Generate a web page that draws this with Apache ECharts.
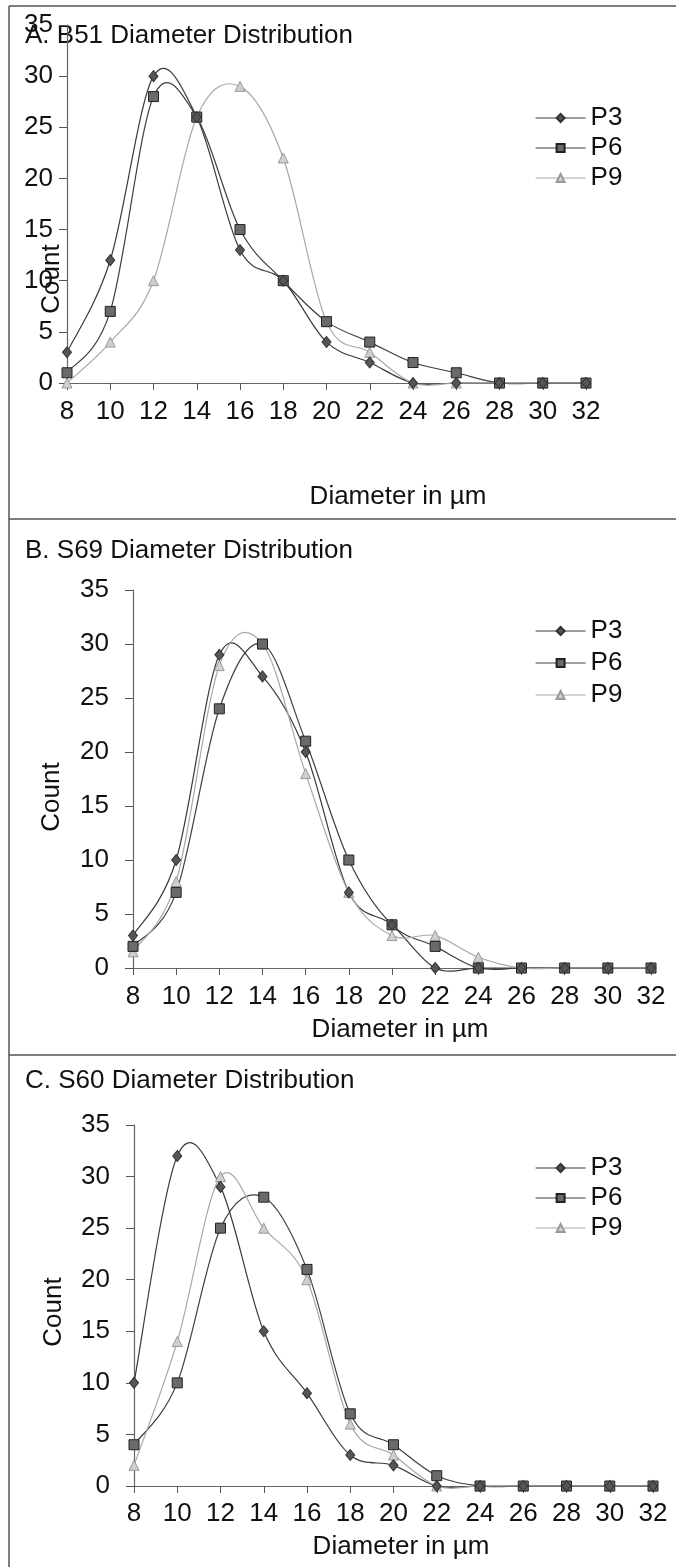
<!DOCTYPE html>
<html>
<head>
<meta charset="utf-8">
<script src="https://cdn.jsdelivr.net/npm/echarts@6/dist/echarts.min.js"></script>
<style>
html,body{margin:0;padding:0;background:#fff;}
#chart{width:676px;height:1567px;}
</style>
</head>
<body>
<div id="chart"></div>
<script>
// ---- data ----
const diameters = [8, 10, 12, 14, 16, 18, 20, 22, 24, 26, 28, 30, 32];
const seriesNames = ['P3', 'P6', 'P9'];
const panelTitles = ['A. B51 Diameter Distribution', 'B. S69 Diameter Distribution', 'C. S60 Diameter Distribution'];
const xAxisTitle = 'Diameter in µm';
const yAxisTitle = 'Count';

const b51_P3 = [3, 12, 30, 26, 13, 10, 4, 2, 0, 0, 0, 0, 0];
const b51_P6 = [1, 7, 28, 26, 15, 10, 6, 4, 2, 1, 0, 0, 0];
const b51_P9 = [0, 4, 10, 26, 29, 22, 6, 3, 0, 0, 0, 0, 0];

const s69_P3 = [3, 10, 29, 27, 20, 7, 4, 0, 0, 0, 0, 0, 0];
const s69_P6 = [2, 7, 24, 30, 21, 10, 4, 2, 0, 0, 0, 0, 0];
const s69_P9 = [1.5, 8, 28, 30, 18, 7, 3, 3, 1, 0, 0, 0, 0];

const s60_P3 = [10, 32, 29, 15, 9, 3, 2, 0, 0, 0, 0, 0, 0];
const s60_P6 = [4, 10, 25, 28, 21, 7, 4, 1, 0, 0, 0, 0, 0];
const s60_P9 = [2, 14, 30, 25, 20, 6, 3, 0, 0, 0, 0, 0, 0];

const panelData = [
  [b51_P3, b51_P6, b51_P9],
  [s69_P3, s69_P6, s69_P9],
  [s60_P3, s60_P6, s60_P9]
];

// ---- layout / style ----
const FONT = 'Liberation Sans, Arial, sans-serif';
const FS = 26;
const grids = [
  { left: 67, top: 25, width: 519, height: 358 },
  { left: 133, top: 590, width: 518, height: 378 },
  { left: 134, top: 1125, width: 519, height: 361 }
];
const xLabelMargins = [16, 16, 15];
const yLabelMargins = [14, 24, 24];
const legendTops = [100, 613, 1150];
const legendGaps = [4, 6, 4];
const titlePos = [[25, 37], [25, 552], [25, 1082]];
const xNamePos = [[398, 497], [400, 1030], [401, 1547]];
const yNamePos = [[52, 279], [52, 797], [54, 1312]];

const styles = [
  { symbol: 'diamond', symbolSize: [9, 11], line: '#3a3a3a', fill: '#555', border: '#333' },
  { symbol: 'rect', symbolSize: 10, line: '#3f3f3f', fill: '#6a6a6a', border: '#222' },
  { symbol: 'triangle', symbolSize: 10, line: '#a8a8a8', fill: '#cfcfcf', border: '#999' }
];

// Excel-like (Catmull-Rom) smoothed curve drawn segment by segment through the axis scales
function makeCurveRenderer(vals, color) {
  const n = vals.length;
  const cl = j => Math.max(0, Math.min(n - 1, j));
  return function (params, api) {
    const i = params.dataIndex;
    if (i >= n - 1) return null;
    const p = j => api.coord([diameters[cl(j)], vals[cl(j)]]);
    const p0 = p(i - 1), p1 = p(i), p2 = p(i + 1), p3 = p(i + 2);
    const t = 1 / 6;
    return {
      type: 'bezierCurve',
      shape: {
        x1: p1[0], y1: p1[1], x2: p2[0], y2: p2[1],
        cpx1: p1[0] + (p2[0] - p0[0]) * t, cpy1: p1[1] + (p2[1] - p0[1]) * t,
        cpx2: p2[0] - (p3[0] - p1[0]) * t, cpy2: p2[1] - (p3[1] - p1[1]) * t
      },
      style: { stroke: color, lineWidth: 1.2, fill: 'none' },
      silent: true
    };
  };
}

const xAxes = [], yAxes = [], series = [], legends = [], graphics = [];

grids.forEach((g, i) => {
  xAxes.push({
    type: 'value', gridIndex: i, min: 8, max: 32, interval: 2,
    axisLine: { show: true, onZero: false, lineStyle: { color: '#666', width: 1.2 } },
    axisTick: { show: true, inside: false, length: 7, lineStyle: { color: '#555' } },
    splitLine: { show: false },
    axisLabel: { fontSize: FS, color: '#111', fontFamily: FONT, margin: xLabelMargins[i], showMinLabel: true, showMaxLabel: true }
  });
  yAxes.push({
    type: 'value', gridIndex: i, min: 0, max: 35, interval: 5,
    axisLine: { show: true, lineStyle: { color: '#666', width: 1.2 } },
    axisTick: { show: true, inside: false, length: 8, lineStyle: { color: '#555' } },
    splitLine: { show: false },
    axisLabel: { fontSize: FS, color: '#111', fontFamily: FONT, margin: yLabelMargins[i] }
  });
  panelData[i].forEach((vals, k) => {
    const st = styles[k];
    const pts = diameters.map((d, j) => [d, vals[j]]);
    series.push({
      name: seriesNames[k] + ' curve', type: 'custom', coordinateSystem: 'cartesian2d',
      xAxisIndex: i, yAxisIndex: i, data: pts,
      renderItem: makeCurveRenderer(vals, st.line),
      z: 2, silent: true, animation: false
    });
    series.push({
      name: seriesNames[k], type: 'line', xAxisIndex: i, yAxisIndex: i,
      data: pts,
      symbol: st.symbol, symbolSize: st.symbolSize,
      lineStyle: { color: st.line, width: 1.2, opacity: 0 },
      itemStyle: { color: st.fill, borderColor: st.border, borderWidth: 1 },
      z: 5 - k,
      animation: false
    });
  });
  legends.push({
    orient: 'vertical', left: 530, top: legendTops[i],
    itemWidth: 50, itemHeight: 10, itemGap: legendGaps[i],
    textStyle: { fontSize: FS, color: '#111', fontFamily: FONT },
    data: seriesNames.map((nm, k) => ({
      name: nm,
      lineStyle: { color: styles[k].line, width: 1.2, opacity: 1 }
    }))
  });
  graphics.push({
    type: 'text', left: titlePos[i][0], top: titlePos[i][1] - 14,
    style: { text: panelTitles[i], fontSize: FS, fill: '#111', fontFamily: FONT }
  });
  graphics.push({
    type: 'text', x: xNamePos[i][0], y: xNamePos[i][1],
    style: { text: xAxisTitle, fontSize: FS, fill: '#111', fontFamily: FONT, align: 'center', verticalAlign: 'middle' }
  });
  graphics.push({
    type: 'text', x: yNamePos[i][0], y: yNamePos[i][1], rotation: Math.PI / 2,
    style: { text: yAxisTitle, fontSize: FS, fill: '#111', fontFamily: FONT, align: 'center', verticalAlign: 'middle' }
  });
});

// frame lines
const frameColor = '#555';
[[9, 6, 676, 6], [9, 519, 676, 519], [9, 1055, 676, 1055], [9, 6, 9, 1567]].forEach(l => {
  graphics.push({ type: 'line', shape: { x1: l[0], y1: l[1], x2: l[2], y2: l[3] }, style: { stroke: frameColor, lineWidth: 1.5 } });
});

const chart = echarts.init(document.getElementById('chart'), null, { renderer: 'canvas' });
chart.setOption({
  animation: false,
  backgroundColor: '#fff',
  grid: grids,
  xAxis: xAxes,
  yAxis: yAxes,
  legend: legends,
  series: series,
  graphic: graphics
});
</script>
</body>
</html>
